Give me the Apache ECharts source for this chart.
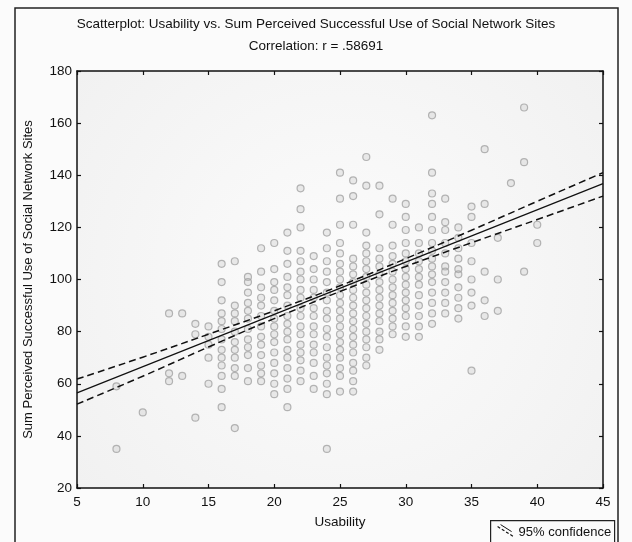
<!DOCTYPE html>
<html>
<head>
<meta charset="utf-8">
<script src="https://cdn.jsdelivr.net/npm/echarts@6/dist/echarts.min.js"></script>
<style>
  html, body { margin: 0; padding: 0; background: #fbfbfb; }
  #chart { width: 632px; height: 542px; }
</style>
</head>
<body>
<div id="chart"></div>
<script>
// Usability score levels (x) and the observed sums at each level (y)
const usabilityLevels = [8, 10, 12, 13, 14, 15, 16, 17, 18, 19, 20, 21, 22, 23, 24, 25, 26, 27, 28, 29, 30, 31, 32, 33, 34, 35, 36, 37, 38, 39, 40];
const perceivedUseByLevel = [
  [35, 59],
  [49],
  [87, 64, 61],
  [87, 63],
  [83, 79, 47],
  [82, 78, 75, 70, 60],
  [106, 99, 92, 87, 84, 81, 77, 73, 70, 67, 63, 58, 51],
  [107, 90, 87, 84, 80, 76, 73, 70, 66, 63, 43],
  [101, 99, 95, 91, 88, 85, 81, 77, 74, 71, 66, 61],
  [112, 103, 97, 93, 90, 86, 82, 78, 75, 71, 67, 64, 61],
  [114, 104, 99, 96, 92, 88, 85, 82, 79, 76, 72, 68, 64, 60, 56],
  [118, 111, 106, 101, 97, 94, 90, 86, 83, 80, 77, 73, 70, 66, 62, 58, 51],
  [135, 127, 120, 111, 107, 103, 100, 96, 93, 89, 86, 82, 79, 75, 72, 69, 65, 61],
  [109, 104, 100, 96, 93, 89, 86, 82, 79, 75, 72, 68, 63, 58],
  [118, 112, 107, 103, 99, 95, 92, 88, 85, 81, 78, 74, 70, 67, 64, 60, 56, 35],
  [141, 131, 121, 114, 110, 106, 103, 100, 97, 94, 91, 88, 85, 82, 79, 76, 73, 70, 66, 63, 57],
  [138, 132, 121, 108, 105, 102, 99, 96, 93, 90, 87, 84, 81, 78, 75, 72, 68, 65, 61, 57],
  [147, 136, 118, 113, 110, 107, 104, 101, 98, 95, 92, 89, 86, 83, 80, 77, 74, 70, 67],
  [136, 125, 112, 108, 105, 102, 99, 96, 93, 90, 87, 84, 80, 77, 73],
  [131, 121, 113, 109, 106, 103, 100, 97, 94, 91, 88, 85, 82, 79],
  [129, 124, 119, 114, 110, 107, 104, 101, 98, 95, 92, 89, 86, 82, 78],
  [120, 114, 110, 107, 104, 101, 98, 94, 90, 86, 82, 78],
  [163, 141, 133, 129, 124, 119, 114, 111, 108, 105, 102, 99, 95, 91, 87, 83],
  [131, 122, 119, 114, 110, 105, 103, 99, 95, 91, 87],
  [120, 116, 112, 108, 104, 102, 97, 93, 89, 85],
  [128, 124, 114, 107, 100, 95, 90, 65],
  [150, 129, 103, 92, 86],
  [116, 100, 88],
  [137],
  [166, 145, 103],
  [121, 114]
];

// Fitted regression line and 95% confidence band
const fitX = [5, 45];
const fitY = [56.5, 136.8];
const bandX = [5, 10, 15, 20, 25, 30, 35, 40, 45];
const bandUpper = [61.8, 70.2, 79.0, 88.0, 97.6, 108.0, 118.9, 130.0, 141.0];
const bandLower = [52.2, 62.9, 74.1, 85.0, 95.4, 105.0, 114.1, 123.0, 132.0];

// Axis ticks
const xTicks = { min: 5, max: 45, step: 5 };
const yTicks = { min: 20, max: 180, step: 20 };

const titleText = 'Scatterplot: Usability vs. Sum Perceived Successful Use of Social Network Sites';
const subtitleText = 'Correlation: r = .58691';
const xName = 'Usability';
const yName = 'Sum Perceived Successful Use of Social Network Sites';
const legendText = '95% confidence';

const points = [];
usabilityLevels.forEach((u, i) => {
  perceivedUseByLevel[i].forEach(v => points.push([u, v]));
});

const FONT = 'Liberation Sans, Arial, sans-serif';
const INK = '#111';
const chart = echarts.init(document.getElementById('chart'));

const axisCommon = {
  type: 'value',
  axisLine: { show: true, onZero: false, lineStyle: { color: INK, width: 1.5 } },
  axisTick: { show: true, inside: true, length: 4, lineStyle: { color: INK, width: 1.2 } },
  splitLine: { show: false }
};

chart.setOption({
  animation: false,
  backgroundColor: '#fbfbfb',
  textStyle: { fontFamily: FONT },
  title: [
    { text: titleText, left: 'center', top: 12, textStyle: { fontSize: 13.5, fontWeight: 'normal', color: INK, fontFamily: FONT } },
    { text: subtitleText, left: 'center', top: 34, textStyle: { fontSize: 13.5, fontWeight: 'normal', color: INK, fontFamily: FONT } }
  ],
  grid: {
    left: 77, top: 71, right: 29, bottom: 54,
    show: true,
    backgroundColor: {
      type: 'radial', x: 0.5, y: 0.5, r: 0.8,
      colorStops: [{ offset: 0, color: '#fcfcfc' }, { offset: 1, color: '#f1f1f1' }]
    },
    borderWidth: 0
  },
  xAxis: [
    Object.assign({}, axisCommon, {
      min: xTicks.min, max: xTicks.max, interval: xTicks.step,
      name: xName, nameLocation: 'middle', nameGap: 27,
      nameTextStyle: { fontSize: 13.5, color: INK, fontFamily: FONT },
      axisLabel: { fontSize: 13.5, color: INK, margin: 7, fontFamily: FONT }
    }),
    Object.assign({}, axisCommon, {
      position: 'top', min: xTicks.min, max: xTicks.max, interval: xTicks.step,
      axisLabel: { show: false }
    })
  ],
  yAxis: [
    Object.assign({}, axisCommon, {
      min: yTicks.min, max: yTicks.max, interval: yTicks.step,
      name: yName, nameLocation: 'middle', nameGap: 42, nameRotate: 90,
      nameTextStyle: { fontSize: 13, color: INK, fontFamily: FONT },
      axisLabel: { fontSize: 13.5, color: INK, margin: 5, fontFamily: FONT }
    }),
    Object.assign({}, axisCommon, {
      position: 'right', min: yTicks.min, max: yTicks.max, interval: yTicks.step,
      axisLabel: { show: false }
    })
  ],
  series: [
    {
      type: 'scatter',
      data: points,
      symbol: 'circle',
      symbolSize: 7,
      itemStyle: { color: 'rgba(190,190,190,0.35)', borderColor: '#a3a3a3', borderWidth: 1.2 },
      z: 2
    },
    {
      type: 'line',
      data: bandX.map((x, i) => [x, bandUpper[i]]),
      smooth: true, symbol: 'none',
      lineStyle: { color: INK, width: 1.5, type: [7, 4] },
      z: 3
    },
    {
      type: 'line',
      data: bandX.map((x, i) => [x, bandLower[i]]),
      smooth: true, symbol: 'none',
      lineStyle: { color: INK, width: 1.5, type: [7, 4] },
      z: 3
    },
    {
      type: 'line',
      data: fitX.map((x, i) => [x, fitY[i]]),
      symbol: 'none',
      lineStyle: { color: INK, width: 1.2 },
      z: 4
    }
  ],
  graphic: [
    {
      type: 'rect', silent: true, z: 0,
      shape: { x: 15, y: 8, width: 603, height: 560 },
      style: { fill: 'none', stroke: '#222', lineWidth: 1.5 }
    },
    {
      type: 'group', left: 490, top: 520, z: 10,
      children: [
        { type: 'rect', shape: { x: 0, y: 0, width: 124, height: 30 }, style: { fill: '#fbfbfb', stroke: '#222', lineWidth: 1.2 } },
        { type: 'line', shape: { x1: 7, y1: 6, x2: 23, y2: 16 }, style: { stroke: INK, lineWidth: 1.2, lineDash: [3, 2] } },
        { type: 'line', shape: { x1: 10, y1: 4, x2: 21, y2: 11 }, style: { stroke: INK, lineWidth: 1 } },
        { type: 'text', style: { x: 28, y: 5, text: legendText, fontSize: 13, fill: INK, fontFamily: FONT } }
      ]
    }
  ]
});
</script>
</body>
</html>
